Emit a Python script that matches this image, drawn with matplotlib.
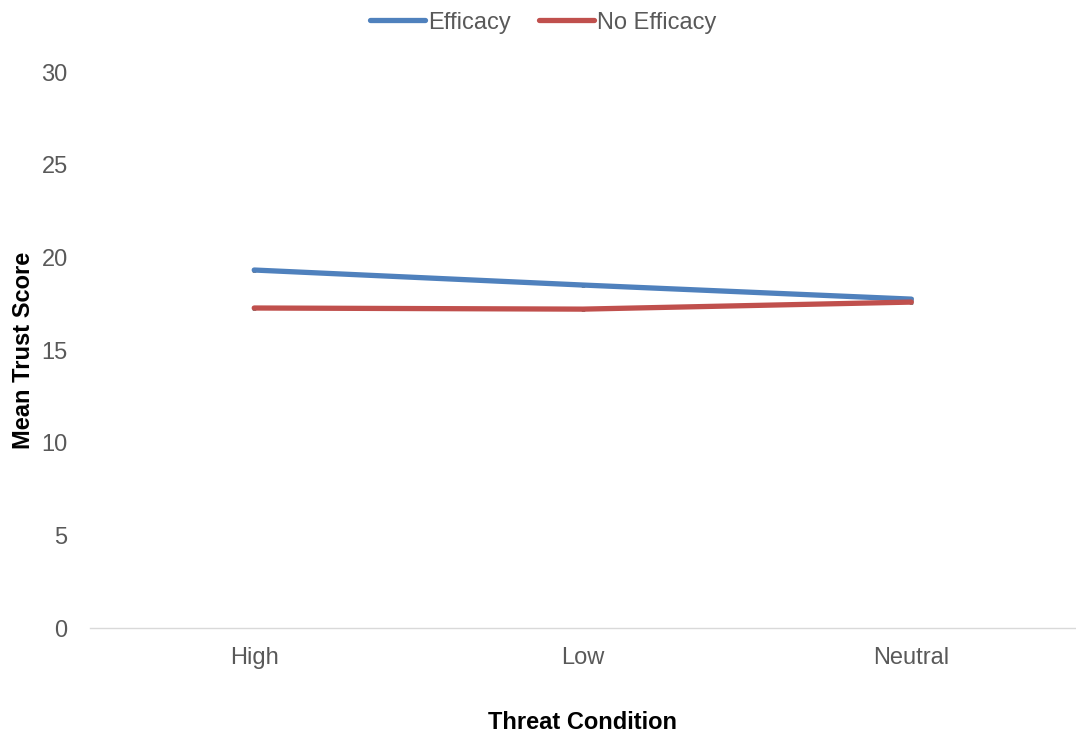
import matplotlib.pyplot as plt

categories = ["High", "Low", "Neutral"]
efficacy = [19.32, 18.51, 17.75]
no_efficacy = [17.27, 17.21, 17.59]
err = [0.12, 0.12, 0.12]
y_ticks = [0, 5, 10, 15, 20, 25, 30]

BLUE = "#4f81bd"
RED = "#c0504d"
GREY = "#595959"

plt.rcParams["font.family"] = ["Liberation Sans", "DejaVu Sans"]

fig = plt.figure(figsize=(10.76, 7.36), dpi=100)
ax = fig.add_axes([0.0836, 0.1467, 0.916, 0.7553])

x = list(range(len(categories)))
for vals, color, label in ((efficacy, BLUE, "Efficacy"), (no_efficacy, RED, "No Efficacy")):
    ax.errorbar(x, vals, yerr=err, fmt="none", ecolor="black", elinewidth=2.5, zorder=2)
    ax.plot(x, vals, color=color, lw=3.8, solid_capstyle="round", label=label, zorder=3)

ax.set_xlim(-0.5, 2.5)
ax.set_ylim(0, 30)
ax.set_xticks(x)
ax.set_xticklabels(categories)
ax.set_yticks(y_ticks)
ax.tick_params(axis="both", length=0, labelsize=17, labelcolor=GREY)
ax.tick_params(axis="x", pad=14)
ax.tick_params(axis="y", pad=16)
for side in ("top", "right", "left"):
    ax.spines[side].set_visible(False)
ax.spines["bottom"].set_color("#d9d9d9")
ax.spines["bottom"].set_linewidth(1)

ax.set_xlabel("Threat Condition", fontsize=17, fontweight="bold", labelpad=30)
ax.set_ylabel("Mean Trust Score", fontsize=17, fontweight="bold", labelpad=5)

leg = fig.legend(loc="upper center", bbox_to_anchor=(0.505, 1.013), ncol=2, frameon=False,
                 fontsize=17, handlelength=2.3, handletextpad=0.15, columnspacing=1.2)
for t in leg.get_texts():
    t.set_color(GREY)

fig.savefig("out.png", dpi=100)
